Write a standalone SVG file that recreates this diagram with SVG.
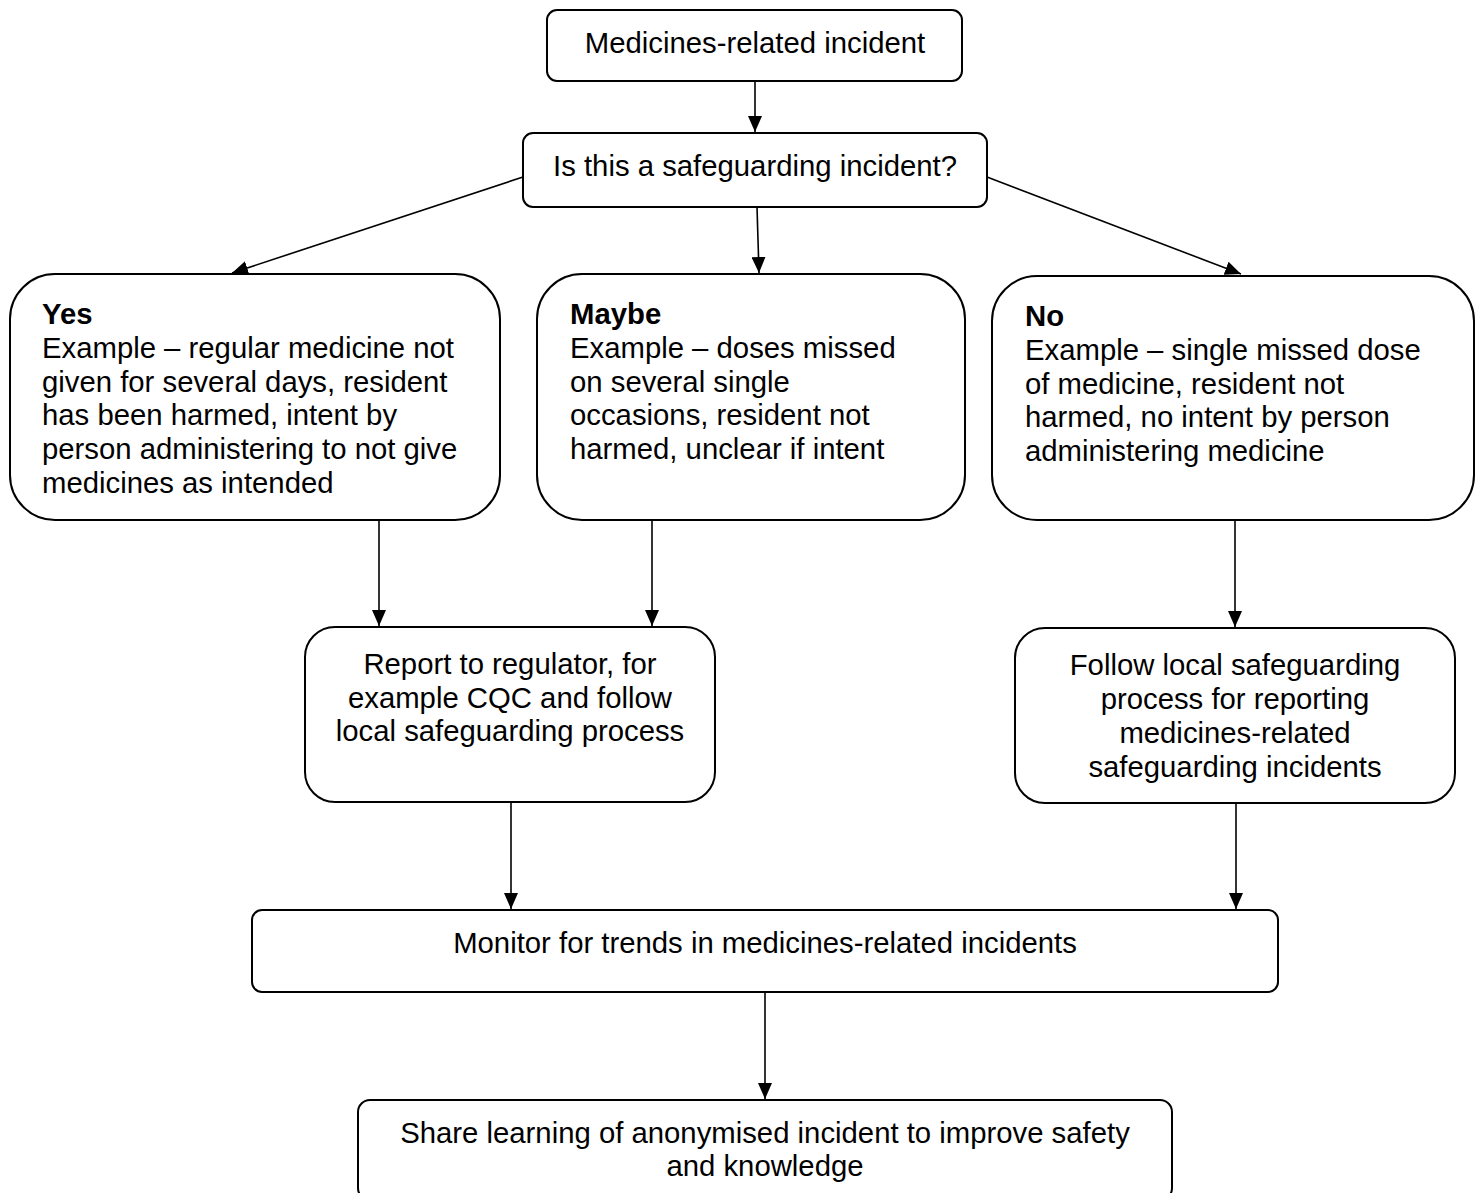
<svg xmlns="http://www.w3.org/2000/svg" width="1475" height="1193" viewBox="0 0 1475 1193">
<style>
.box{fill:#fff;stroke:#000;stroke-width:2}
.t{font-family:"Liberation Sans",Arial,sans-serif;font-size:29.3px;fill:#000}
.c{text-anchor:middle}
.b{font-weight:bold}
.conn line{stroke:#000;stroke-width:1.6;marker-end:url(#ah)}
</style>
<defs>
<marker id="ah" markerUnits="userSpaceOnUse" markerWidth="16" markerHeight="14" viewBox="0 0 16 14" refX="16" refY="7" orient="auto">
<path d="M0,0 L16,7 L0,14 Z" fill="#000"/>
</marker>
</defs>
<rect width="1475" height="1193" fill="#fff"/>
<g id="n1"><rect class="box" x="547" y="10" width="415" height="71" rx="10"/><text class="t c" x="755" y="53">Medicines-related incident</text></g>
<g id="n2"><rect class="box" x="523" y="133" width="464" height="74" rx="10"/><text class="t c" x="755" y="176">Is this a safeguarding incident?</text></g>
<g id="yes"><rect class="box" x="10" y="274" width="490" height="246" rx="45"/>
<text class="t" x="42"><tspan class="b" x="42" y="324">Yes</tspan><tspan x="42" y="358">Example – regular medicine not</tspan><tspan x="42" y="392">given for several days, resident</tspan><tspan x="42" y="425">has been harmed, intent by</tspan><tspan x="42" y="459">person administering to not give</tspan><tspan x="42" y="493">medicines as intended</tspan></text></g>
<g id="maybe"><rect class="box" x="537" y="274" width="428" height="246" rx="45"/>
<text class="t" x="570"><tspan class="b" x="570" y="324">Maybe</tspan><tspan x="570" y="358">Example – doses missed</tspan><tspan x="570" y="392">on several single</tspan><tspan x="570" y="425">occasions, resident not</tspan><tspan x="570" y="459">harmed, unclear if intent</tspan></text></g>
<g id="no"><rect class="box" x="992" y="276" width="482" height="244" rx="45"/>
<text class="t" x="1025"><tspan class="b" x="1025" y="326">No</tspan><tspan x="1025" y="360">Example – single missed dose</tspan><tspan x="1025" y="394">of medicine, resident not</tspan><tspan x="1025" y="427">harmed, no intent by person</tspan><tspan x="1025" y="461">administering medicine</tspan></text></g>
<g id="report"><rect class="box" x="305" y="627" width="410" height="175" rx="30"/>
<text class="t c"><tspan x="510" y="674">Report to regulator, for</tspan><tspan x="510" y="708">example CQC and follow</tspan><tspan x="510" y="741">local safeguarding process</tspan></text></g>
<g id="follow"><rect class="box" x="1015" y="628" width="440" height="175" rx="30"/>
<text class="t c"><tspan x="1235" y="675">Follow local safeguarding</tspan><tspan x="1235" y="709">process for reporting</tspan><tspan x="1235" y="743">medicines-related</tspan><tspan x="1235" y="777">safeguarding incidents</tspan></text></g>
<g id="monitor"><rect class="box" x="252" y="910" width="1026" height="82" rx="10"/><text class="t c" x="765" y="953">Monitor for trends in medicines-related incidents</text></g>
<g id="share"><rect class="box" x="358" y="1100" width="814" height="100" rx="12"/>
<text class="t c"><tspan x="765" y="1143">Share learning of anonymised incident to improve safety</tspan><tspan x="765" y="1176">and knowledge</tspan></text></g>
<g id="connectors" class="conn">
<line x1="755" y1="81" x2="755" y2="132"/>
<line x1="523" y1="177" x2="232" y2="273"/>
<line x1="757" y1="207" x2="759" y2="273"/>
<line x1="987" y1="177" x2="1241" y2="274"/>
<line x1="379" y1="520" x2="379" y2="626"/>
<line x1="652" y1="520" x2="652" y2="626"/>
<line x1="1235" y1="520" x2="1235" y2="627"/>
<line x1="511" y1="802" x2="511" y2="909"/>
<line x1="1236" y1="803" x2="1236" y2="909"/>
<line x1="765" y1="992" x2="765" y2="1099"/>
</g>
</svg>
